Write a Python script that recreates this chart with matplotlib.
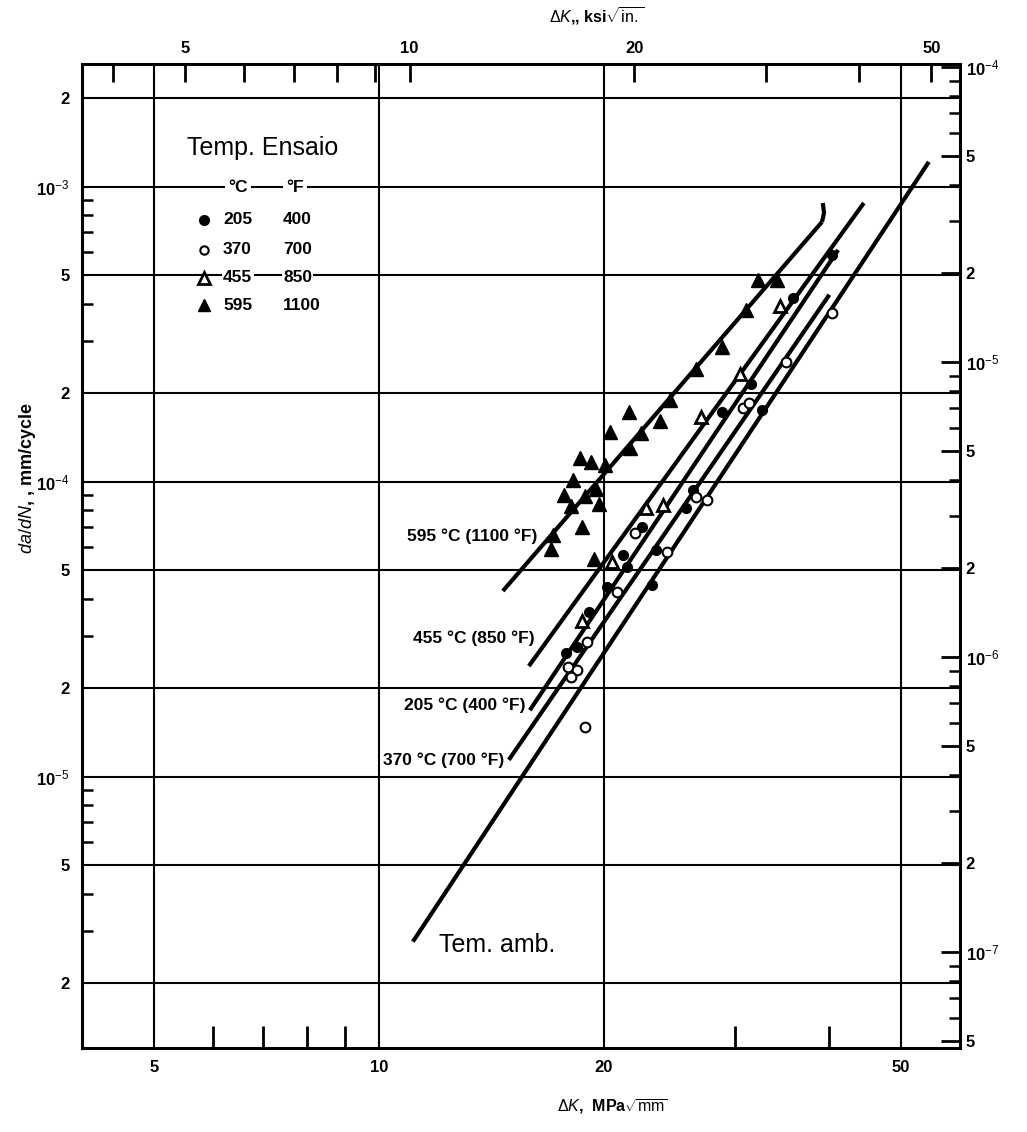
import matplotlib
matplotlib.use('Agg')
import matplotlib.pyplot as plt
from matplotlib import font_manager
from matplotlib.ticker import FixedLocator, FixedFormatter, NullFormatter

# ---------------- data (ΔK in MPa·√m, da/dN in mm/cycle) ----------------
t595_K = [32.2, 34.1, 31.0, 28.8, 26.6, 24.5, 23.8, 21.6, 20.4, 22.4, 21.7, 18.6,
          19.2, 20.1, 18.2, 17.7, 18.9, 19.5, 18.1, 19.7, 18.7, 17.1, 17.0, 19.4]
t595_v = [4.83e-4, 4.83e-4, 3.82e-4, 2.86e-4, 2.41e-4, 1.89e-4, 1.61e-4, 1.72e-4,
          1.47e-4, 1.46e-4, 1.30e-4, 1.20e-4, 1.17e-4, 1.14e-4, 1.01e-4, 9.01e-5,
          8.95e-5, 9.45e-5, 8.27e-5, 8.40e-5, 7.02e-5, 6.60e-5, 5.91e-5, 5.47e-5]

t455_K = [34.4, 27.0, 30.4, 20.5, 22.8, 24.0, 18.7]
t455_v = [3.94e-4, 1.66e-4, 2.32e-4, 5.34e-5, 8.14e-5, 8.34e-5, 3.37e-5]

c205_K = [40.4, 35.8, 31.5, 28.8, 32.6, 26.3, 25.8, 22.5, 23.5, 21.2, 21.5, 23.2,
          20.2, 19.1, 18.4, 17.8]
c205_v = [5.87e-4, 4.20e-4, 2.14e-4, 1.72e-4, 1.75e-4, 9.37e-5, 8.14e-5, 7.02e-5,
          5.87e-5, 5.64e-5, 5.14e-5, 4.47e-5, 4.40e-5, 3.62e-5, 2.75e-5, 2.63e-5]

c370_K = [40.4, 35.1, 30.7, 31.3, 26.6, 27.5, 24.3, 22.0, 20.8, 19.0, 17.9, 18.4,
          18.1, 18.9]
c370_v = [3.73e-4, 2.55e-4, 1.78e-4, 1.85e-4, 8.87e-5, 8.67e-5, 5.78e-5, 6.70e-5,
          4.23e-5, 2.86e-5, 2.35e-5, 2.30e-5, 2.18e-5, 1.47e-5]

# fitted trend lines (end points)
line595_K = [14.65, 39.2]
line595_v = [4.26e-5, 7.59e-4]
hook595_K = [39.2, 39.45, 39.3]
hook595_v = [7.59e-4, 8.15e-4, 8.8e-4]
line455_K = [15.87, 44.6]
line455_v = [2.37e-5, 8.80e-4]
line205_K = [15.92, 41.2]
line205_v = [1.68e-5, 6.10e-4]
line370_K = [14.92, 40.1]
line370_v = [1.14e-5, 4.30e-4]
lineamb_K = [11.1, 54.5]
lineamb_v = [2.76e-6, 1.213e-3]

# axis ticks
x_major = [5, 10, 20, 50]
x_minor = [6, 7, 8, 9, 30, 40]
top_major = [5, 10, 20, 50]
top_minor = [4, 6, 7, 8, 9, 30, 40]
y_major = [2e-6, 5e-6, 1e-5, 2e-5, 5e-5, 1e-4, 2e-4, 5e-4, 1e-3, 2e-3]
y_major_labels = ['2', '5', '10$^{-5}$', '2', '5', '10$^{-4}$', '2', '5', '10$^{-3}$', '2']
y_minor = [m * d for d in (1e-6, 1e-5, 1e-4, 1e-3) for m in (3, 4, 6, 7, 8, 9)]
r_major = [5e-8, 1e-7, 2e-7, 5e-7, 1e-6, 2e-6, 5e-6, 1e-5, 2e-5, 5e-5, 1e-4]
r_major_labels = ['5', '10$^{-7}$', '2', '5', '10$^{-6}$', '2', '5', '10$^{-5}$', '2', '5', '10$^{-4}$']
r_minor = [m * d for d in (1e-8, 1e-7, 1e-6, 1e-5) for m in (3, 4, 6, 7, 8, 9)]

legend_rows = [('205', '400'), ('370', '700'), ('455', '850'), ('595', '1100')]
curve_labels = ['595 °C (1100 °F)', '455 °C (850 °F)', '205 °C (400 °F)', '370 °C (700 °F)']

# ---------------- fonts ----------------
avail = {f.name for f in font_manager.fontManager.ttflist}
narrow = 'Liberation Sans Narrow' if 'Liberation Sans Narrow' in avail else 'Liberation Sans'
plt.rcParams['font.family'] = [narrow, 'DejaVu Sans']
plt.rcParams['mathtext.fontset'] = 'custom'
plt.rcParams['mathtext.rm'] = narrow
plt.rcParams['mathtext.it'] = narrow + ':italic'
plt.rcParams['mathtext.bf'] = narrow + ':bold'

W, H = 1027, 1132
fig = plt.figure(figsize=(W / 100, H / 100), dpi=100)
L, R, T, B = 82, 960, 64, 1048
ax = fig.add_axes([L / W, 1 - B / H, (R - L) / W, (B - T) / H])
ax.set_xscale('log')
ax.set_yscale('log')
ax.set_xlim(4.0, 60.0)
ax.set_ylim(1.203e-6, 2.604e-3)

# grid
for gx in x_major:
    ax.axvline(gx, color='black', lw=1.5, zorder=1)
for gy in y_major:
    ax.axhline(gy, color='black', lw=1.5, zorder=1)

for s in ax.spines.values():
    s.set_linewidth(2.2)

# ticks (bottom / left)
ax.xaxis.set_major_locator(FixedLocator(x_major))
ax.xaxis.set_major_formatter(FixedFormatter([str(v) for v in x_major]))
ax.xaxis.set_minor_locator(FixedLocator(x_minor))
ax.xaxis.set_minor_formatter(NullFormatter())
ax.yaxis.set_major_locator(FixedLocator(y_major))
ax.yaxis.set_major_formatter(FixedFormatter(y_major_labels))
ax.yaxis.set_minor_locator(FixedLocator(y_minor))
ax.yaxis.set_minor_formatter(NullFormatter())
ax.tick_params(which='major', length=0, pad=9, labelsize=12)
ax.tick_params(axis='x', which='minor', direction='in', length=16, width=2)
ax.tick_params(axis='y', which='minor', direction='in', length=8, width=1.8)
for lab in ax.get_xticklabels() + ax.get_yticklabels():
    lab.set_fontweight('bold')

# top axis (ksi sqrt(in))
top = ax.secondary_xaxis('top', functions=(lambda k: k / 1.0988, lambda k: k * 1.0988))
top.xaxis.set_major_locator(FixedLocator(top_major))
top.xaxis.set_major_formatter(FixedFormatter([str(v) for v in top_major]))
top.xaxis.set_minor_locator(FixedLocator(top_minor))
top.xaxis.set_minor_formatter(NullFormatter())
top.tick_params(which='both', direction='in', length=13, width=2, pad=6, labelsize=12)
for lab in top.get_xticklabels():
    lab.set_fontweight('bold')

# right axis (in/cycle)
right = ax.secondary_yaxis('right', functions=(lambda v: v / 25.4, lambda v: v * 25.4))
right.yaxis.set_major_locator(FixedLocator(r_major))
right.yaxis.set_major_formatter(FixedFormatter(r_major_labels))
right.yaxis.set_minor_locator(FixedLocator(r_minor))
right.yaxis.set_minor_formatter(NullFormatter())
right.tick_params(which='major', direction='in', length=14, width=2, pad=4, labelsize=12)
right.tick_params(which='minor', direction='in', length=8, width=1.8)
for lab in right.get_yticklabels():
    lab.set_fontweight('bold')

# trend lines
lw = 3.0
for kk, vv in [(line595_K, line595_v), (hook595_K, hook595_v), (line455_K, line455_v),
               (line205_K, line205_v), (line370_K, line370_v), (lineamb_K, lineamb_v)]:
    ax.plot(kk, vv, color='black', lw=lw, solid_capstyle='butt', zorder=3)

# data markers
ax.plot(t595_K, t595_v, ls='none', marker='^', ms=10, color='black', zorder=4)
ax.plot(t455_K, t455_v, ls='none', marker='^', ms=9, mfc='white', mec='black', mew=2, zorder=4)
ax.plot(c205_K, c205_v, ls='none', marker='o', ms=7, color='black', zorder=4)
ax.plot(c370_K, c370_v, ls='none', marker='o', ms=7, mfc='white', mec='black', mew=1.5, zorder=4)

# curve labels (axes-fraction positions)
def fx(px):
    return (px - L) / (R - L)

def fy(py):
    return (B - py) / (B - T)

wbox = dict(facecolor='white', edgecolor='none', pad=1.0)
lab_pos = [(537, 536), (535, 638), (525, 705), (504, 760)]
for txt, (px, py) in zip(curve_labels, lab_pos):
    ax.text(fx(px), fy(py), txt, transform=ax.transAxes, ha='right', va='center',
            fontsize=12.5, fontweight='bold', bbox=wbox, zorder=5)

ax.text(fx(497), fy(945), 'Tem. amb.', transform=ax.transAxes, ha='center', va='center',
        fontsize=18, family=['Liberation Sans', 'DejaVu Sans'], zorder=5)

# legend block
ax.text(fx(263), fy(148), 'Temp. Ensaio', transform=ax.transAxes, ha='center', va='center',
        fontsize=18, family=['Liberation Sans', 'DejaVu Sans'], zorder=5)
ax.text(fx(238), fy(188), '°C', transform=ax.transAxes, ha='center', va='center',
        fontsize=12.5, fontweight='bold', bbox=dict(facecolor='white', edgecolor='none', pad=2), zorder=5)
ax.text(fx(295), fy(188), '°F', transform=ax.transAxes, ha='center', va='center',
        fontsize=12.5, fontweight='bold', bbox=dict(facecolor='white', edgecolor='none', pad=2), zorder=5)
row_y = [220, 250, 278, 305]
leg_style = [dict(marker='o', ms=7, color='black'),
             dict(marker='o', ms=6, mfc='white', mec='black', mew=1.5),
             dict(marker='^', ms=8, mfc='white', mec='black', mew=2),
             dict(marker='^', ms=9, color='black')]
for (c, f), py, st in zip(legend_rows, row_y, leg_style):
    ax.plot([fx(204)], [fy(py)], ls='none', transform=ax.transAxes, zorder=6, **st)
    ax.text(fx(223), fy(py), c, transform=ax.transAxes, ha='left', va='center',
            fontsize=12.5, fontweight='bold', bbox=dict(facecolor='white', edgecolor='none', pad=1), zorder=5)
    ax.text(fx(283), fy(py), f, transform=ax.transAxes, ha='left', va='center',
            fontsize=12.5, fontweight='bold', bbox=dict(facecolor='white', edgecolor='none', pad=1), zorder=5)

# axis titles
fig.text(597 / W, 1 - 16 / H, r'$\Delta K$,, ksi$\sqrt{\mathrm{in.}}$', ha='center', va='center',
         fontsize=11.5, fontweight='bold')
fig.text(612 / W, 1 - 1107 / H, r'$\Delta K$,  MPa$\sqrt{\mathrm{mm}}$', ha='center', va='center',
         fontsize=11.5, fontweight='bold')
fig.text(28 / W, 1 - 478 / H, r'$da/dN$, , mm/cycle', ha='center', va='center',
         rotation=90, fontsize=13, fontweight='bold')

fig.savefig('out.png', dpi=100, facecolor='white')
